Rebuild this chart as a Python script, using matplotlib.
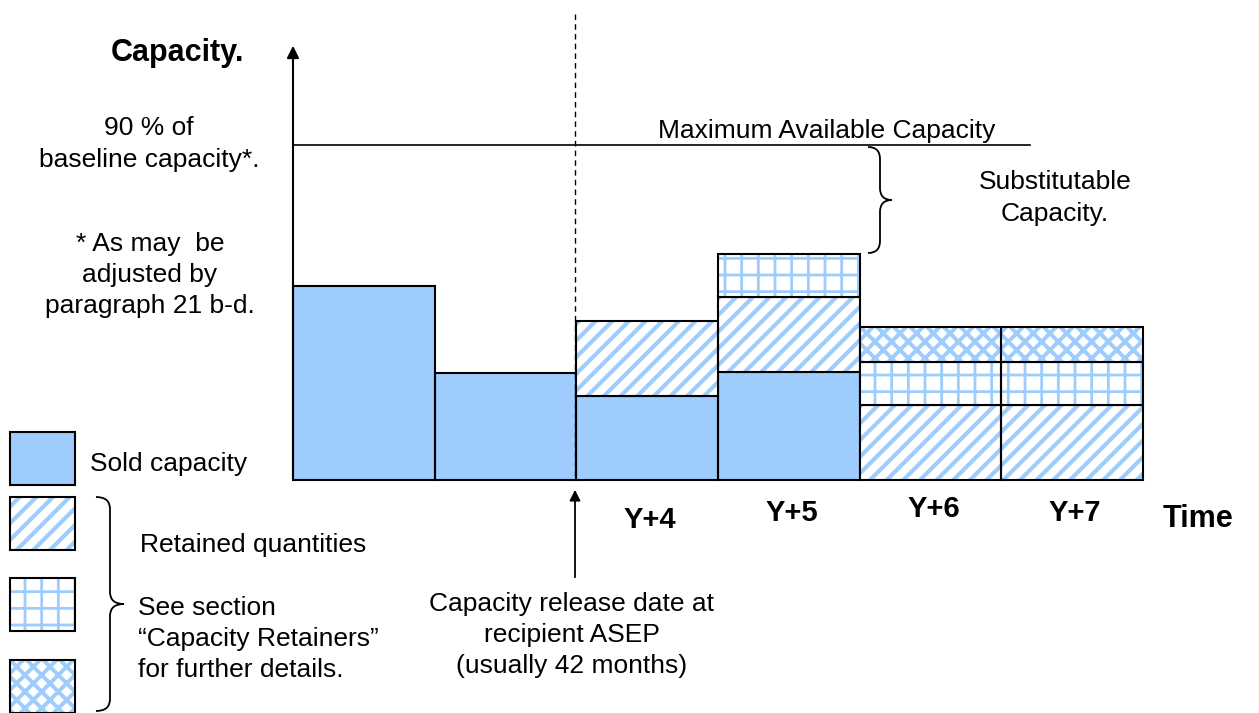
import numpy as np
import matplotlib
matplotlib.use("Agg")
import matplotlib.pyplot as plt
from matplotlib.path import Path
from matplotlib.patches import PathPatch, Rectangle

plt.rcParams['font.family'] = ['Liberation Sans', 'DejaVu Sans']

# capacity per period (units: % of baseline)
periods = ["", "", "Y+4", "Y+5", "Y+6", "Y+7"]
sold = [52.1, 28.7, 22.6, 29.0, 0.0, 0.0]
retained = [0.0, 0.0, 20.1, 20.2, 20.1, 20.1]
retained_grid = [0.0, 0.0, 0.0, 11.5, 11.6, 11.6]
retained_diamond = [0.0, 0.0, 0.0, 0.0, 9.4, 9.4]
max_capacity = 90

blue = '#9ECCFC'
hatches = {'sold': None, 'retained': '//', 'grid': '+', 'diamond': 'xx'}
hatch_lw = {None: 1, '//': 3, '+': 2, 'xx': 2.8}

fig = plt.figure(figsize=(12.59, 7.13), dpi=100)

# main axes: x=0 at pixel 293, one period = 141.67 px; y=0 at pixel 480, 1 unit = 3.722 px
W, H = 1259, 713
ux, uy = 141.67, 3.722
ax = fig.add_axes([0, 0, 1, 1])
ax.set_xlim(-293 / ux, (W - 293) / ux)
ax.set_ylim(-(H - 480) / uy, 480 / uy)
ax.axis('off')

x = np.arange(len(periods)) + 0.5
sold = np.array(sold)
retained = np.array(retained)
retained_grid = np.array(retained_grid)
retained_diamond = np.array(retained_diamond)


def stacked(vals, bottom, hatch):
    m = vals > 0
    with plt.rc_context({'hatch.linewidth': hatch_lw[hatch]}):
        if hatch is None:
            ax.bar(x[m], vals[m], 1.0, bottom=bottom[m], color=blue, linewidth=0)
        else:
            ax.bar(x[m], vals[m], 1.0, bottom=bottom[m], color='white',
                   edgecolor=blue, linewidth=0, hatch=hatch)
    ax.bar(x[m], vals[m], 1.0, bottom=bottom[m], fill=False,
           edgecolor='black', linewidth=1.5)


b = np.zeros(len(x))
stacked(sold, b, hatches['sold'])
b = b + sold
stacked(retained, b, hatches['retained'])
b = b + retained
stacked(retained_grid, b, hatches['grid'])
b = b + retained_grid
stacked(retained_diamond, b, hatches['diamond'])

# period labels sit a little unevenly in the original
label_y = [0, 0, -10.7, -9.0, -7.7, -8.9]
for xi, lab, ly in zip(x, periods, label_y):
    if lab:
        ax.text(xi + 0.02, ly, lab, ha='center', va='center', fontsize=21, fontweight='bold')

# overlay in pixel coordinates for annotations
ov = fig.add_axes([0, 0, 1, 1])
ov.set_xlim(0, W)
ov.set_ylim(H, 0)
ov.axis('off')
ov.patch.set_alpha(0)

# axes arrows
ov.annotate('', xy=(293, 43), xytext=(293, 481),
            arrowprops=dict(arrowstyle='-|>', color='black', lw=1.5, mutation_scale=18))
ov.annotate('', xy=(1262, 480), xytext=(292, 480),
            arrowprops=dict(arrowstyle='-|>', color='black', lw=1.5, mutation_scale=18))

fs = 19
ls = 1.39

# maximum capacity line
ax.plot([0, 5.2], [max_capacity, max_capacity], color='black', lw=1.2)
ov.text(658, 131, 'Maximum Available Capacity', ha='left', va='center', fontsize=fs)

# release date marker
ov.plot([575, 575], [14, 480], color='black', lw=1, ls=(0, (4, 3)))
ov.annotate('', xy=(575, 487), xytext=(575, 580),
            arrowprops=dict(arrowstyle='-|>', color='black', lw=1.3, mutation_scale=16))
ov.text(572, 635, 'Capacity release date at\nrecipient ASEP\n(usually 42 months)',
        ha='center', va='center', fontsize=fs, linespacing=ls)


def brace(x0, y0, y1, w, d):
    ym = (y0 + y1) / 2
    r = 12
    xm = x0 + d * w / 2
    verts = [(x0, y0), (xm, y0), (xm, y0 + r), (xm, ym - r), (xm, ym), (x0 + d * w, ym),
             (xm, ym), (xm, ym + r), (xm, y1 - r), (xm, y1), (x0, y1)]
    codes = [Path.MOVETO, Path.CURVE3, Path.CURVE3, Path.LINETO, Path.CURVE3, Path.CURVE3,
             Path.CURVE3, Path.CURVE3, Path.LINETO, Path.CURVE3, Path.CURVE3]
    ov.add_patch(PathPatch(Path(verts, codes), fill=False, lw=1.3, edgecolor='black'))


brace(868, 147, 253, 24, 1)
brace(96, 497, 711, 28, 1)

ov.text(1055, 198, 'Substitutable\nCapacity.', ha='center', va='center', fontsize=fs, linespacing=ls)

# left-side labels
ov.text(178, 53, 'Capacity.', ha='center', va='center', fontsize=22, fontweight='bold')
ov.text(149, 144, '90 % of\nbaseline capacity*.', ha='center', va='center', fontsize=fs, linespacing=ls)
ov.text(150, 275, '* As may  be\nadjusted by\nparagraph 21 b-d.', ha='center', va='center',
        fontsize=fs, linespacing=ls)
ov.text(1198, 519, 'Time', ha='center', va='center', fontsize=22, fontweight='bold')

# legend swatches
swatches = [(432, hatches['sold']), (497, hatches['retained']),
            (578, hatches['grid']), (660, hatches['diamond'])]
for y0, h in swatches:
    with plt.rc_context({'hatch.linewidth': hatch_lw[h]}):
        if h is None:
            ov.add_patch(Rectangle((10, y0), 65, 53, facecolor=blue, edgecolor='none'))
        else:
            ov.add_patch(Rectangle((10, y0), 65, 53, facecolor='white', edgecolor=blue,
                                   linewidth=0, hatch=h))
    ov.add_patch(Rectangle((10, y0), 65, 53, fill=False, edgecolor='black', lw=1.5))

ov.text(90, 464, 'Sold capacity', ha='left', va='center', fontsize=fs)
ov.text(140, 545, 'Retained quantities', ha='left', va='center', fontsize=fs)
ov.text(138, 639, 'See section\n\u201cCapacity Retainers\u201d\nfor further details.',
        ha='left', va='center', fontsize=fs, linespacing=ls)

fig.savefig('out.png', dpi=100)
